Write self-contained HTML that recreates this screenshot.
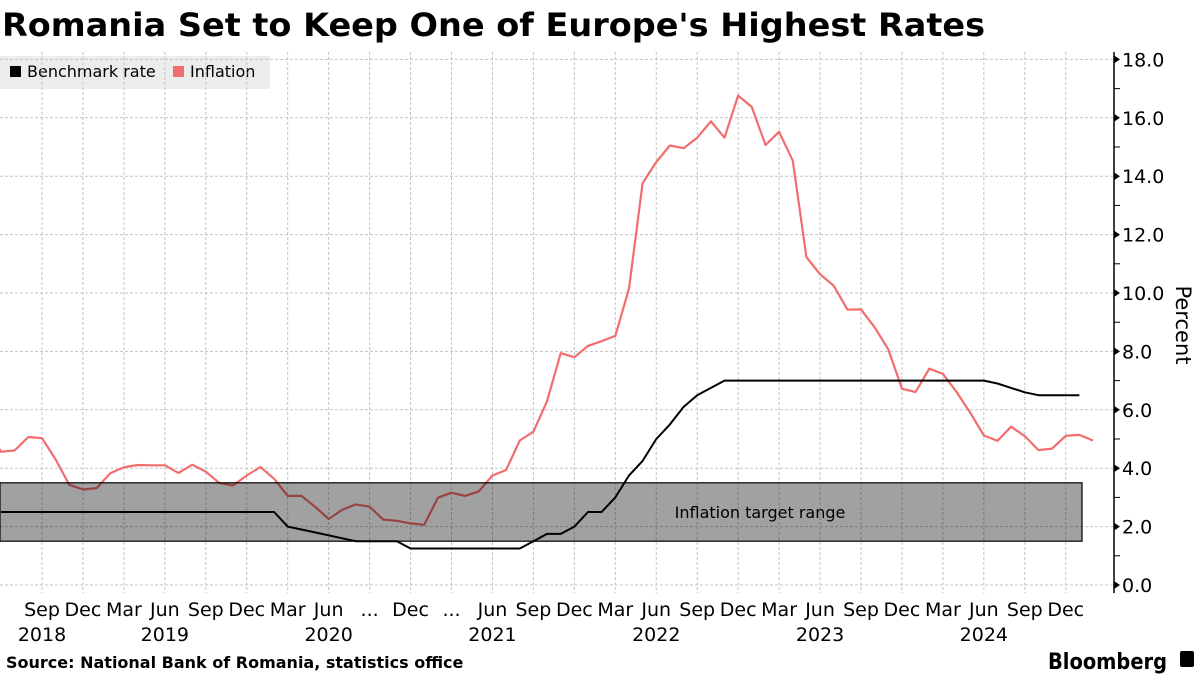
<!DOCTYPE html>
<html><head><meta charset="utf-8"><style>
body{margin:0;background:#fff;width:1200px;height:675px;overflow:hidden;font-family:"Liberation Sans","DejaVu Sans",sans-serif}
svg{display:block}
</style></head><body>
<svg id="c" width="1200" height="675">
<text x="2" y="36" font-size="32" font-weight="bold" textLength="983" lengthAdjust="spacingAndGlyphs" font-family="DejaVu Sans, sans-serif">Romania Set to Keep One of Europe's Highest Rates</text>
<g>
<rect x="0" y="56" width="270" height="33" fill="#ececec"/>
<g><rect x="10" y="66" width="11" height="11" fill="#000"/><text x="27" y="77" font-size="16" font-family="DejaVu Sans, sans-serif">Benchmark rate</text></g>
<g><rect x="173" y="66" width="11" height="11" fill="#f26d6d"/><text x="190" y="77" font-size="16" font-family="DejaVu Sans, sans-serif">Inflation</text></g>
</g>
<g id="grid"></g><g id="lines"></g><g id="axis"></g>
<text x="6" y="668" font-size="16" font-weight="bold" font-family="DejaVu Sans, sans-serif">Source: National Bank of Romania, statistics office</text>
<text x="1048" y="669" font-size="22" font-weight="bold" textLength="119" lengthAdjust="spacingAndGlyphs" font-family="DejaVu Sans, sans-serif">Bloomberg</text>
<rect x="1180" y="651" width="14" height="16" rx="2" fill="#000"/>
<text transform="translate(1176,325) rotate(90)" font-size="21" text-anchor="middle" font-family="DejaVu Sans, sans-serif">Percent</text>
</svg>
<script>
// month index t = months since Jan 2018
const inflationStart = 4; // May 2018
const inflation = [5.41,4.56,4.61,5.07,5.03,4.3,3.43,3.27,
3.32,3.83,4.03,4.11,4.10,4.10,3.84,4.12,3.88,3.49,3.41,3.75,4.04,
3.64,3.05,3.05,2.68,2.26,2.58,2.76,2.68,2.24,2.20,2.11,2.06,
2.99,3.16,3.05,3.21,3.75,3.94,4.95,5.25,6.29,7.94,7.8,8.19,
8.35,8.53,10.15,13.76,14.49,15.05,14.96,15.32,15.88,15.32,16.76,16.37,
15.07,15.52,14.53,11.23,10.64,10.25,9.43,9.44,8.83,8.07,6.72,6.61,
7.41,7.23,6.61,5.9,5.12,4.94,5.42,5.1,4.62,4.67,5.11,5.14,4.95];
const rateStart = 5; // Jun 2018
const rate = [2.5,2.5,2.5,2.5,2.5,2.5,2.5,
2.5,2.5,2.5,2.5,2.5,2.5,2.5,2.5,2.5,2.5,2.5,2.5,
2.5,2.5,2.0,1.9,1.8,1.7,1.6,1.5,1.5,1.5,1.5,1.25,
1.25,1.25,1.25,1.25,1.25,1.25,1.25,1.25,1.5,1.75,1.75,2.0,
2.5,2.5,3.0,3.75,4.25,5.0,5.5,6.1,6.5,6.75,7.0,7.0,
7.0,7.0,7.0,7.0,7.0,7.0,7.0,7.0,7.0,7.0,7.0,7.0,
7.0,7.0,7.0,7.0,7.0,7.0,6.9,6.75,6.6,6.5,6.5,6.5,6.5];
const targetLow = 1.5, targetHigh = 3.5;
const yTicks = [0,2,4,6,8,10,12,14,16,18];
const monthLabels = ["Sep","Dec","Mar","Jun","Sep","Dec","Mar","Jun","...","Dec","...","Jun","Sep","Dec","Mar","Jun","Sep","Dec","Mar","Jun","Sep","Dec","Mar","Jun","Sep","Dec"];
const yearLabels = ["2018","2019","2020","2021","2022","2023","2024"];
const yearLabelMonth = [8,17,29,41,53,65,77];

const NS="http://www.w3.org/2000/svg";
const x = t => 42 + (t-8)*13.65;
const y = v => 585 - 29.2*v;
function mk(tag, attrs, parent){const e=document.createElementNS(NS,tag);for(const k in attrs)e.setAttribute(k,attrs[k]);parent.appendChild(e);return e;}
const grid=document.getElementById('grid'), lines=document.getElementById('lines'), axis=document.getElementById('axis');

yTicks.forEach(v=>{
  const l=mk('line',{x1:0,x2:1114,y1:y(v),y2:y(v),stroke:'#c4c4c4','stroke-dasharray':'3,2','stroke-width':1},grid);
  
  
  const tk=mk('path',{d:`M1114 ${y(v)-4} L1120 ${y(v)} L1114 ${y(v)+4}Z`,fill:'#000'},axis);
  
  
  if (v < 18) {
    const mt=mk('line',{x1:1114,x2:1120,y1:y(v+1),y2:y(v+1),stroke:'#000'},axis);
    
    
  }
  const tx=mk('text',{x:1122,y:y(v)+7,'font-size':19,'font-family':'DejaVu Sans, sans-serif'},axis);
  tx.textContent=v.toFixed(1);
  
  
});
monthLabels.forEach((m,i)=>{
  const t=8+3*i;
  const l=mk('line',{x1:x(t),x2:x(t),y1:52,y2:593,stroke:'#c4c4c4','stroke-dasharray':'3,2'},grid);
  
  
  const tx=mk('text',{x:x(t),y:616,'font-size':19,'text-anchor':'middle','font-family':'DejaVu Sans, sans-serif'},axis);
  tx.textContent=m;
  
  
});
yearLabels.forEach((yr,i)=>{
  const tx=mk('text',{x:x(yearLabelMonth[i]),y:641,'font-size':19,'text-anchor':'middle','font-family':'DejaVu Sans, sans-serif'},axis);
  tx.textContent=yr;
  
  
});
const ax=mk('line',{x1:1114,x2:1114,y1:52,y2:593,stroke:'#000','stroke-width':1.5},axis);



const pts=(arr,s)=>arr.map((v,i)=>x(s+i).toFixed(1)+','+y(v).toFixed(1)).join(' ');
const inf=mk('polyline',{points:pts(inflation,inflationStart),fill:'none',stroke:'#f26d6d','stroke-width':2.2,'stroke-linejoin':'round'},lines);


const rl=mk('polyline',{points:pts(rate,rateStart),fill:'none',stroke:'#000','stroke-width':2,'stroke-linejoin':'round'},lines);


const band=mk('rect',{x:0,y:y(targetHigh),width:1082,height:y(targetLow)-y(targetHigh),fill:'rgba(0,0,0,0.37)',stroke:'#000','stroke-width':1.2},lines);


const bt=mk('text',{x:760,y:y((targetLow+targetHigh)/2)+6,'font-size':16,'text-anchor':'middle','font-family':'DejaVu Sans, sans-serif'},lines);
bt.textContent='Inflation target range';


</script>
</body></html>
